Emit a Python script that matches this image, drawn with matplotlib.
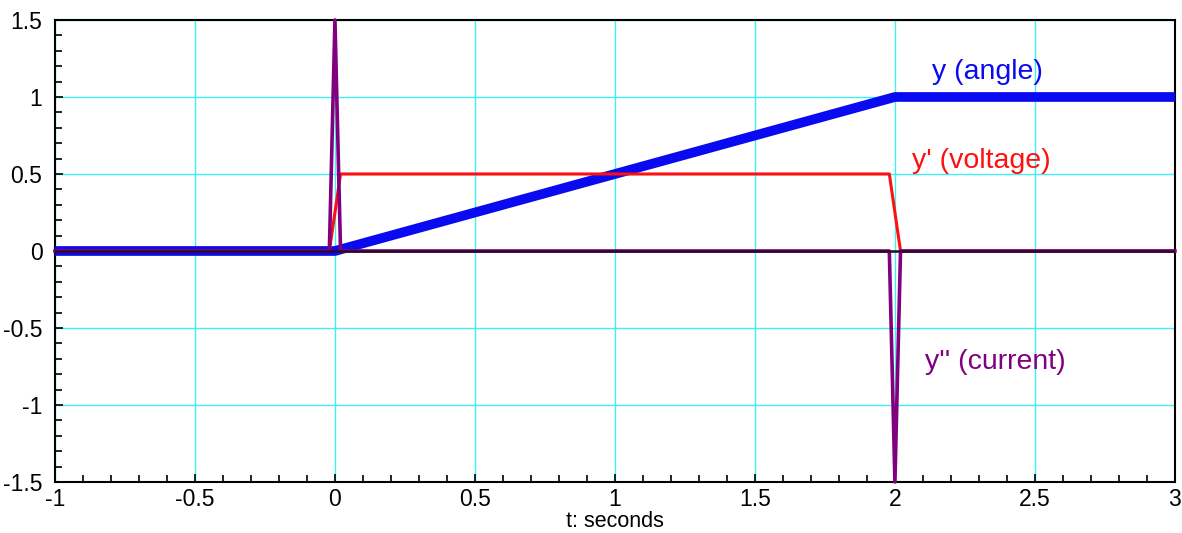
import numpy as np
import matplotlib.pyplot as plt
from matplotlib.ticker import MultipleLocator

plt.rcParams['font.family'] = ['Liberation Sans', 'DejaVu Sans']

# y (angle): ramp from 0 at t=0 to 1 at t=2
t_angle = [-1.0, 0.0, 2.0, 3.0]
y_angle = [0.0, 0.0, 1.0, 1.0]

# y' (voltage)
t_volt = [-1.0, -0.02, 0.02, 1.98, 2.02, 3.0]
y_volt = [0.0, 0.0, 0.5, 0.5, 0.0, 0.0]

# y'' (current): spikes run to the edge of the axes
t_curr = [-1.0, -0.02, 0.0, 0.02, 1.98, 2.0, 2.02, 3.0]
y_curr = [0.0, 0.0, 1.5, 0.0, 0.0, -1.5, 0.0, 0.0]

fig = plt.figure(figsize=(11.82, 5.33), dpi=100)
ax = fig.add_axes([0.0465, 0.0957, 0.9475, 0.8668])

ax.grid(True, which='major', color='#40f0f0', lw=1.0, zorder=0)

ax.plot(t_angle, y_angle, color='#0a0af0', lw=7, solid_capstyle='round',
        solid_joinstyle='round', zorder=3)
ax.plot(t_volt, y_volt, color='#ff1010', lw=2.2, zorder=4)
ax.plot(t_curr, y_curr, color='#800080', lw=2.6, zorder=5, clip_on=False)
ax.axhline(0, color='#2a0a25', lw=1.8, zorder=6)

ax.text(2.33, 1.16, "y (angle)", color='#0a0af0', fontsize=20.5, ha='center', va='center')
ax.text(2.31, 0.585, "y' (voltage)", color='#ff1010', fontsize=20.5, ha='center', va='center')
ax.text(2.36, -0.72, "y'' (current)", color='#800080', fontsize=20.5, ha='center', va='center')

ax.set_xlim(-1, 3)
ax.set_ylim(-1.5, 1.5)
ax.xaxis.set_major_locator(MultipleLocator(0.5))
ax.xaxis.set_minor_locator(MultipleLocator(0.1))
ax.yaxis.set_major_locator(MultipleLocator(0.5))
ax.yaxis.set_minor_locator(MultipleLocator(0.1))
ax.xaxis.set_major_formatter(lambda v, p: f"{v:g}")
ax.yaxis.set_major_formatter(lambda v, p: f"{v:g}")
ax.tick_params(which='both', direction='in', labelsize=16.5, width=1.2)
ax.tick_params(which='major', length=6)
ax.tick_params(axis='y', which='major', pad=9)
ax.tick_params(axis='x', which='major', pad=4)
ax.tick_params(which='minor', length=5)
ax.tick_params(top=False, right=False)
for s in ax.spines.values():
    s.set_linewidth(1.5)
ax.set_xlabel("t: seconds", fontsize=15.5, labelpad=0)

fig.savefig("out.png", dpi=100)
